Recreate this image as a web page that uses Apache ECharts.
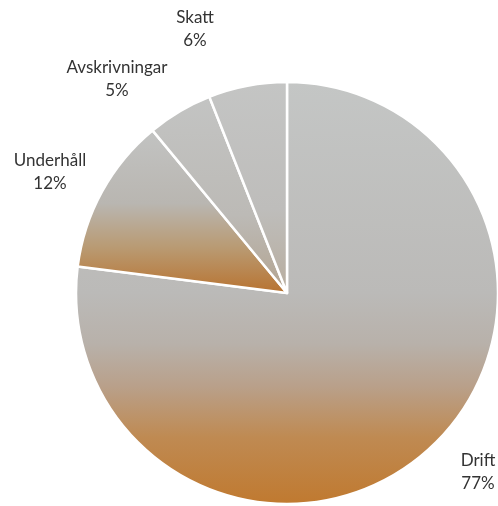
<!DOCTYPE html>
<html><head><meta charset="utf-8">
<script src="https://cdn.jsdelivr.net/npm/echarts@6/dist/echarts.min.js"></script>
<style>html,body{margin:0;padding:0;background:#fff}#c{width:498px;height:506px}</style>
</head><body><div id="c"></div>
<script>
const categories = ['Drift', 'Underhåll', 'Avskrivningar', 'Skatt'];
const values = [77, 12, 5, 6];
const labelPos = [[478, 472], [50, 172], [117, 79], [195, 29]];

function grad(stops) {
  return { type: 'linear', x: 0, y: 0, x2: 0, y2: 1,
    colorStops: stops.map(s => ({ offset: s[0], color: s[1] })) };
}
const fills = [
  grad([[0, '#c4c6c5'], [0.5, '#bbbab8'], [0.62, '#b8b1aa'], [0.72, '#b9a08a'], [0.84, '#bf8a52'], [1, '#c0792f']]),
  grad([[0, '#c2c3c2'], [0.45, '#b9b6b1'], [0.72, '#b99a72'], [1, '#b8722f']]),
  grad([[0, '#c3c4c3'], [0.6, '#bcbab6'], [1, '#b3a38f']]),
  grad([[0, '#c4c5c4'], [0.6, '#bebdbb'], [1, '#b8ad9e']])
];

const chart = echarts.init(document.getElementById('c'));
chart.setOption({
  backgroundColor: '#ffffff',
  animation: false,
  series: [{
    type: 'pie',
    center: [287, 293],
    radius: [0, 211],
    startAngle: 90,
    clockwise: true,
    data: categories.map((c, i) => ({ name: c, value: values[i], itemStyle: { color: fills[i] } })),
    itemStyle: { borderColor: '#ffffff', borderWidth: 2.5 },
    label: {
      show: true,
      position: 'outside',
      overflow: 'none',
      width: 160,
      formatter: p => p.name + '\n' + p.value + '%',
      fontFamily: 'Lato, "Open Sans", sans-serif',
      fontSize: 17,
      lineHeight: 23,
      color: '#333333',
      align: 'center'
    },
    labelLine: { show: false },
    labelLayout: function (params) {
      const p = labelPos[params.dataIndex];
      return { x: p[0], y: p[1], align: 'center', verticalAlign: 'middle' };
    },
    emphasis: { disabled: true }
  }]
});
</script></body></html>
